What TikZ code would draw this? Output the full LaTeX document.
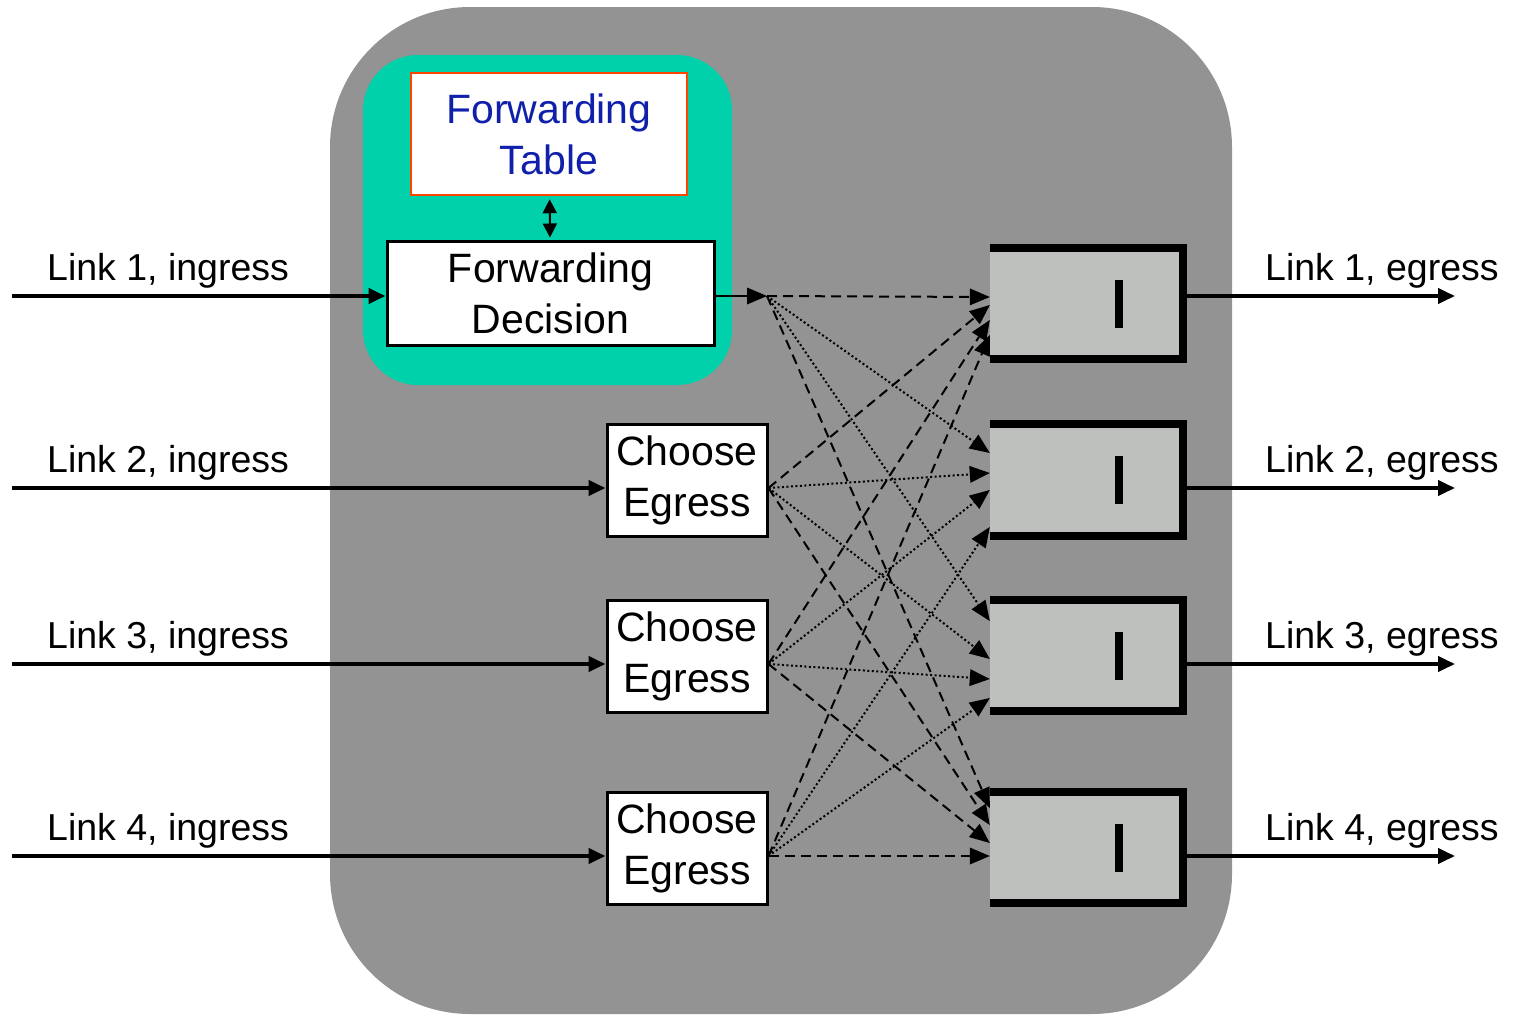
\documentclass[tikz,border=0pt]{standalone}
\usepackage{fontspec}
\setmainfont{Liberation Sans}
\usepackage{xcolor}
\usetikzlibrary{arrows.meta}

\definecolor{chassisgray}{RGB}{147,147,147}
\definecolor{lookupteal}{RGB}{0,209,170}
\definecolor{queuegray}{RGB}{190,192,190}
\definecolor{tableedge}{RGB}{255,69,0}
\definecolor{tableblue}{RGB}{16,32,170}

\begin{document}
\begin{tikzpicture}[x=1pt, y=-1pt,
        box/.style = {draw,
            fill=white,
            line width=3pt,
            inner sep=0pt,
            align=center,
            font=\fontsize{41}{51}\selectfont},
        queue/.style = {fill=queuegray,
            minimum width=193pt,
            minimum height=111pt,
            inner sep=0pt},
        link/.style = {line width=4pt,
            -{Triangle[length=17pt,width=15pt]}},
        linklabel/.style = {anchor=base west,
            inner sep=0pt,
            font=\fontsize{37.5}{44}\selectfont},
        fanout/.style = {line width=2pt,
            -{Triangle[length=20pt,width=17pt,line width=0pt]}},
        feeddash/.style = {dash pattern=on 10pt off 6pt},
        feeddot/.style = {dash pattern=on 2pt off 2.5pt}]

    \useasboundingbox (0,0) rectangle (1521,1015);

    % Router chassis and lookup block
    \fill[chassisgray, rounded corners=140pt] (330,7) rectangle (1232,1014);
    \fill[lookupteal, rounded corners=55pt] (363,55) rectangle (732,385);

    % Lookup for link 1
    \node[box,
        draw=tableedge,
        text=tableblue,
        line width=2.5pt,
        minimum width=276pt,
        minimum height=122pt] (table) at (549,134) {Forwarding\\Table};
    \node[box,
        minimum width=327pt,
        minimum height=104pt] (fwd) at (550.5,293) {Forwarding\\Decision};
    \draw[line width=2pt,
        {Triangle[length=14pt,width=14pt]}-{Triangle[length=14pt,width=14pt]},
        shorten <=3pt, shorten >=2pt] (table) -- (fwd);

    % Egress choice for links 2-4
    \node[box, minimum width=160pt, minimum height=112pt] (ce2) at (687,480) {Choose\\Egress};
    \node[box, minimum width=160pt, minimum height=112pt] (ce3) at (687,656) {Choose\\Egress};
    \node[box, minimum width=160pt, minimum height=112pt] (ce4) at (687,848) {Choose\\Egress};

    % Output queues
    \node[queue] (q1) at (1086.5,303.5) {};
    \node[queue] (q2) at (1086.5,480) {};
    \node[queue] (q3) at (1086.5,655.5) {};
    \node[queue] (q4) at (1086.5,847.5) {};
    \foreach \i in {1,...,4} {
        \draw[line width=8pt] (q\i.north west) -- (q\i.north east)
            -- (q\i.south east) -- (q\i.south west);
        \draw[line width=8pt] ([xshift=32.5pt]q\i.center) ++(0,-24) -- ++(0,48);
    }

    % Ingress and egress links
    \coordinate (in1) at (12,296);
    \coordinate (in2) at (12,488);
    \coordinate (in3) at (12,664);
    \coordinate (in4) at (12,856);
    \coordinate (out1) at (1455,296);
    \coordinate (out2) at (1455,488);
    \coordinate (out3) at (1455,664);
    \coordinate (out4) at (1455,856);

    \draw[link] (in1) -- (in1 -| fwd.west);
    \draw[link] (in2) -- (in2 -| ce2.west);
    \draw[link] (in3) -- (in3 -| ce3.west);
    \draw[link] (in4) -- (in4 -| ce4.west);
    \foreach \i in {1,...,4} {
        \draw[link] (out\i -| q\i.east) -- (out\i);
    }

    \node[linklabel] (lin1) at (47,280) {Link 1, ingress};
    \node[linklabel] (lin2) at (47,472) {Link 2, ingress};
    \node[linklabel] (lin3) at (47,648) {Link 3, ingress};
    \node[linklabel] (lin4) at (47,840) {Link 4, ingress};
    \node[linklabel] (lout1) at (1265,280) {Link 1, egress};
    \node[linklabel] (lout2) at (1265,472) {Link 2, egress};
    \node[linklabel] (lout3) at (1265,648) {Link 3, egress};
    \node[linklabel] (lout4) at (1265,840) {Link 4, egress};

    % Switching fabric
    \coordinate (s1) at (767,296);
    \coordinate (s2) at (ce2.east |- in2);
    \coordinate (s3) at (ce3.east |- in3);
    \coordinate (s4) at (ce4.east |- in4);
    \draw[fanout] (s1 -| fwd.east) -- (s1);

    \foreach \s/\q/\ty/\pat in {1/1/297/feeddash, 2/1/305/feeddash, 3/1/320/feeddash, 4/1/335/feeddash,
            1/2/453/feeddot, 2/2/473/feeddot, 3/2/490/feeddot, 4/2/527/feeddot,
            1/3/621/feeddot, 2/3/659/feeddot, 3/3/679/feeddot, 4/3/698/feeddot,
            1/4/808/feeddash, 2/4/825/feeddash, 3/4/843/feeddash, 4/4/856/feeddash} {
        \draw[fanout, \pat] (s\s) -- (q\q.west |- 0,\ty);
    }

\end{tikzpicture}
\end{document}
